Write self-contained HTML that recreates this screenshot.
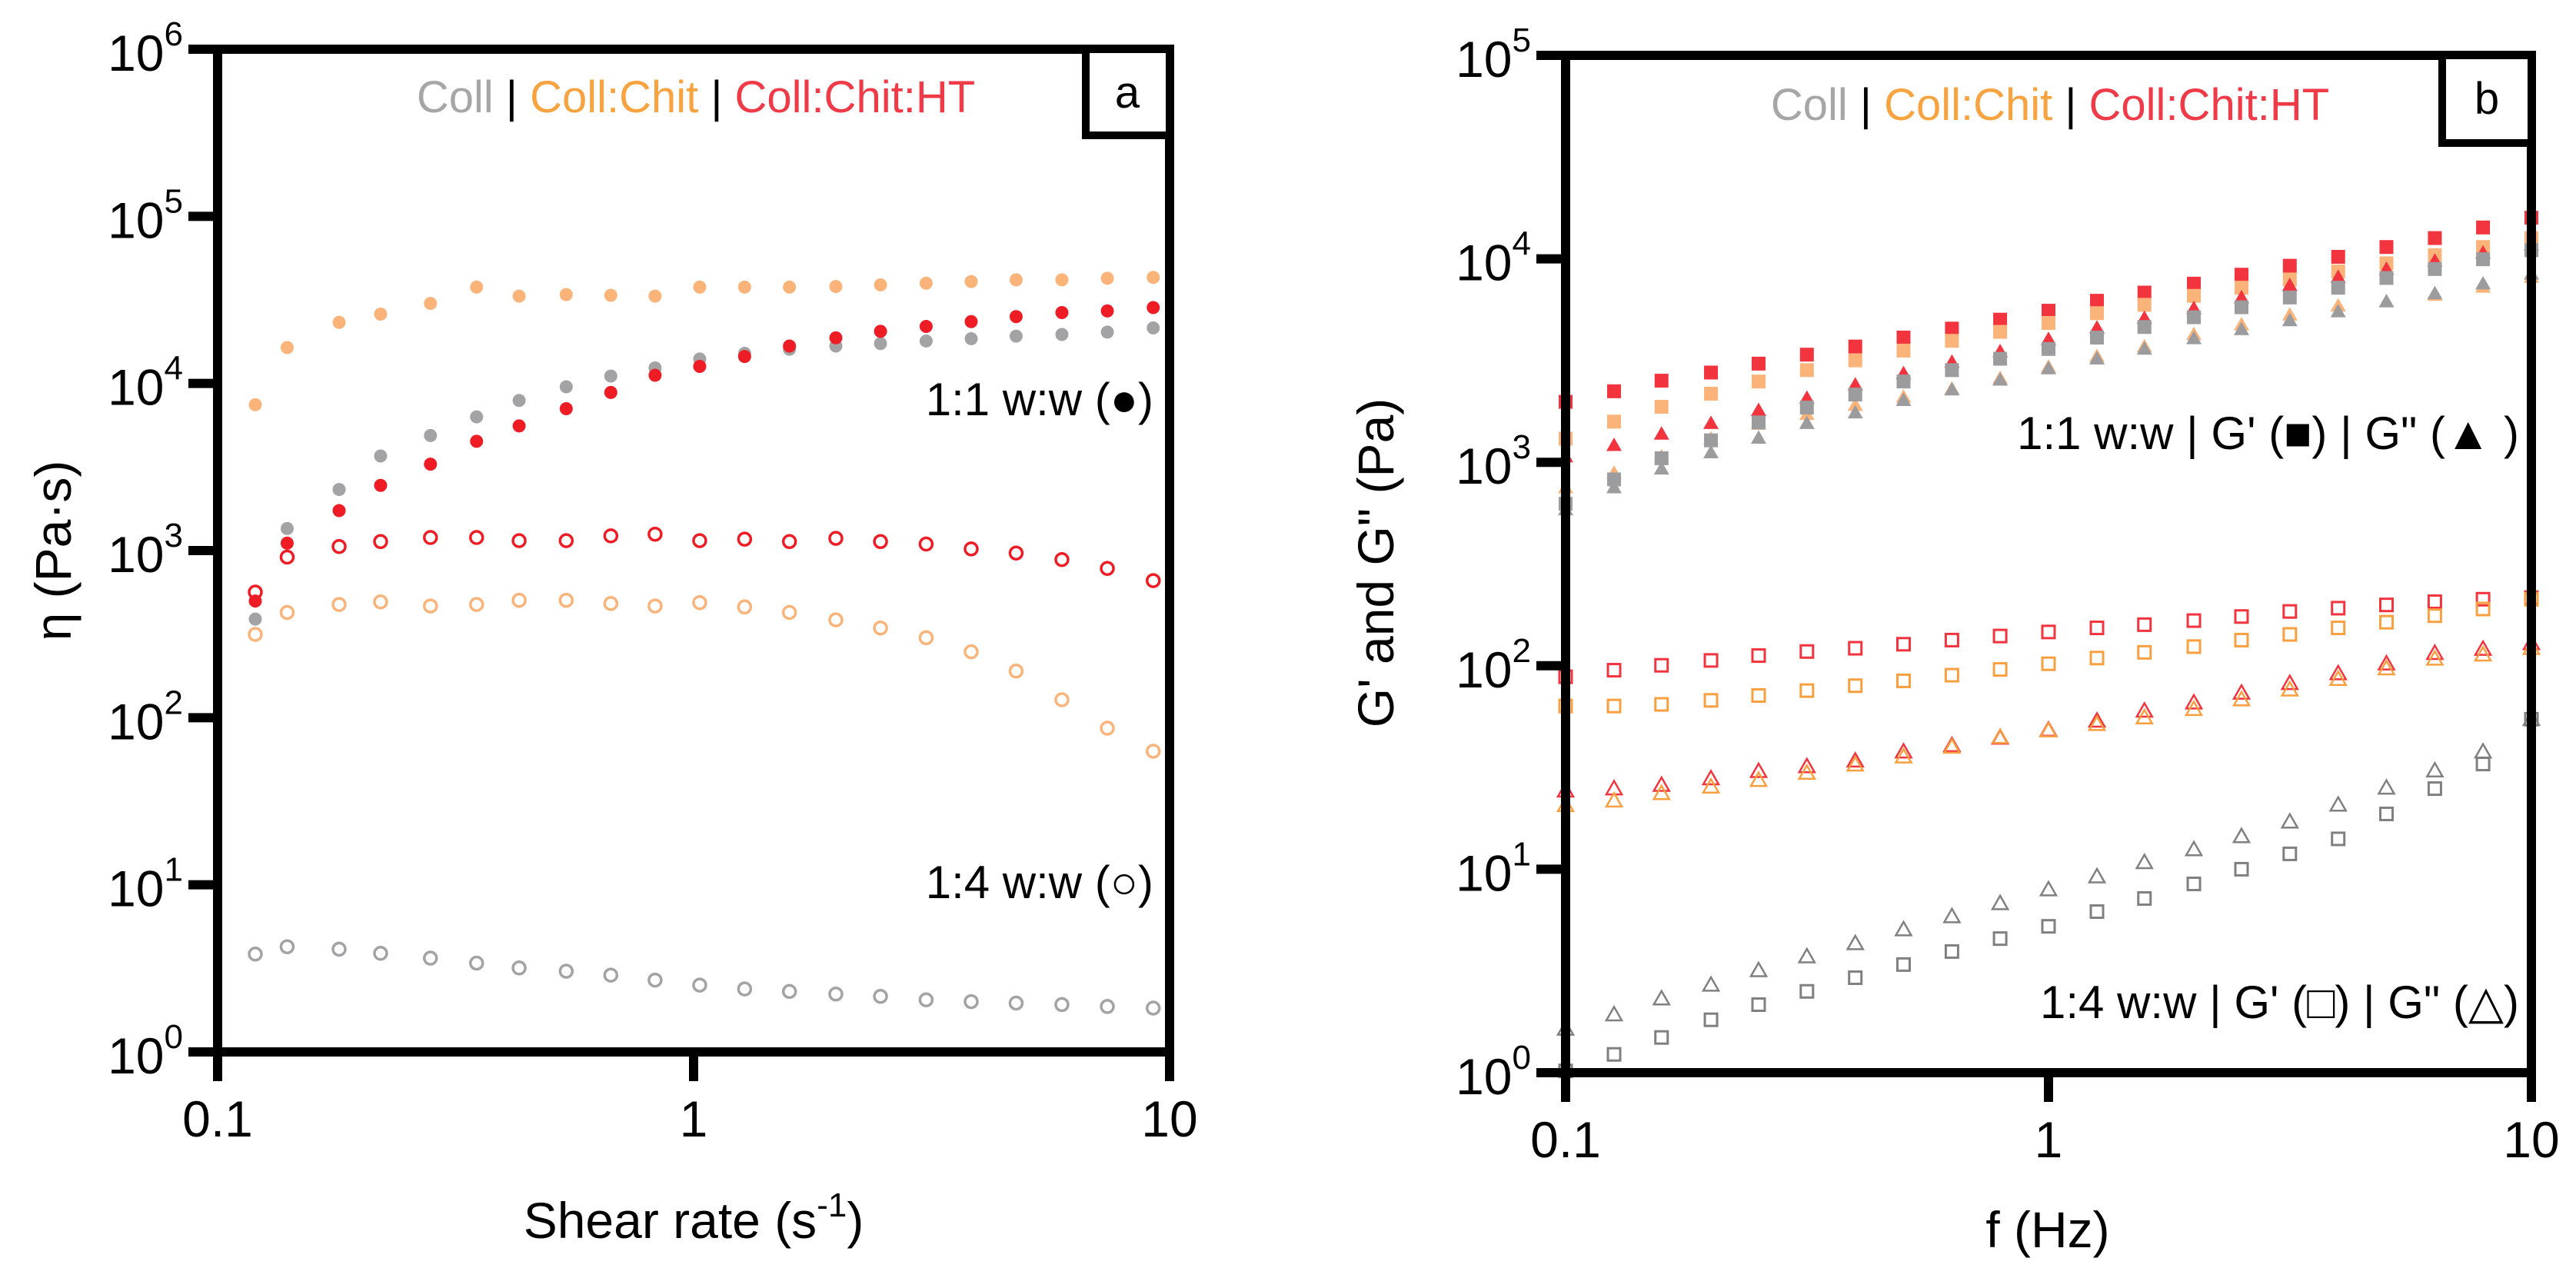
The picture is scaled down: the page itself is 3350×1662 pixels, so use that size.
<!DOCTYPE html>
<html><head><meta charset="utf-8"><style>
html,body{margin:0;padding:0;background:#fff;}
svg{display:block;font-family:"Liberation Sans",Arial,sans-serif;}
</style></head><body>
<svg id="fig" width="3350" height="1662" viewBox="0 0 3350 1662" xmlns="http://www.w3.org/2000/svg">
<g id="pa"></g>
<g id="pb"></g>
</svg>
<script>
// ---------- Panel a data ----------
const shearRate = [0.12,0.14,0.18,0.22,0.28,0.35,0.43,0.54,0.67,0.83,1.03,1.28,1.59,1.99,2.47,3.08,3.83,4.76,5.94,7.4,9.24];
const etaChit11 = [7460,16400,23200,26000,30100,37700,33300,34000,33700,33300,37700,37700,37700,38000,38900,39800,40700,41700,41700,42600,43100];
const etaColl11 = [389,1355,2320,3680,4880,6310,7910,9550,11070,12390,14000,15140,16030,16750,17340,17950,18530,19190,19630,20280,21480];
const etaHT11 = [499,1107,1734,2455,3289,4508,5570,7063,8831,11190,12650,14490,16750,18750,20510,21930,23440,25120,26550,27160,28440];
const etaHT14 = [564,914,1057,1132,1197,1197,1146,1146,1225,1253,1146,1170,1132,1183,1132,1094,1023,966,883,782,661];
const etaChit14 = [315,426,476,493,466,476,504,504,482,466,488,460,426,385,344,301,248,190,128,86.5,63];
const etaColl14 = [3.85,4.26,4.12,3.89,3.64,3.40,3.18,3.04,2.88,2.69,2.51,2.38,2.30,2.22,2.15,2.05,2.00,1.96,1.92,1.87,1.83];
const aYTicks = [0,1,2,3,4,5,6];
const aXTicks = ["0.1","1","10"];
// ---------- Panel b data ----------
const freq = [0.1,0.126,0.158,0.2,0.251,0.316,0.398,0.501,0.631,0.794,1,1.26,1.58,2,2.51,3.16,3.98,5.01,6.31,7.94,10];
const gpHT11 = [1982,2234,2518,2761,3055,3381,3707,4102,4539,5023,5559,6223,6823,7551,8356,9247,10230,11430,12650,14260,15920];
const gpChit11 = [1306,1585,1875,2173,2495,2838,3170,3540,3954,4375,4842,5408,5943,6577,7211,7907,8670,9506,10420,11430,12650];
const gpColl11 = [625,824,1047,1282,1570,1858,2153,2495,2838,3228,3606,4102,4624,5164,5781,6457,7211,8054,8913,9954,11020];
const gppHT11 = [1067,1213,1380,1556,1803,2070,2404,2735,3112,3508,4027,4581,5117,5715,6457,7413,8128,8913,9772,10715,11750];
const gppChit11 = [752,887,1067,1306,1542,1722,1910,2094,2296,2588,2944,3319,3707,4256,4753,5309,5888,6166,6637,7278,8128];
const gppColl11 = [586,752,929,1117,1318,1556,1754,2018,2275,2541,2891,3228,3606,4064,4498,4977,5508,6166,6761,7551,8433];
const gpHT14 = [88.3,95.1,100.5,106.2,112.2,117.5,121.9,127.6,133.7,140,146.6,153.5,159.2,166.7,174.6,184.9,191.9,199.1,206.5,212.3,216.3];
const gpChit14 = [63.4,63.4,64.6,67.6,71.4,75.5,79.8,84.3,89.9,95.9,102.3,109.1,116.4,124.2,133.7,142.6,153.5,163.7,176.2,190.1,212.3];
const gppHT14 = [24.3,24.9,25.9,27.9,30.3,32,34.1,37.8,40.6,44.2,48.4,53.6,60,65.8,73.5,82,91.6,102.3,115.3,120.8,128.8];
const gppChit14 = [20.6,21.7,23.6,25.4,27.4,29.7,32.6,35.7,39.9,44.6,48,51.6,55.6,61.1,68.2,76.2,85.9,96.8,108.1,113.2,121.9];
const gppColl14 = [1.64,1.93,2.31,2.70,3.18,3.72,4.32,5.05,5.86,6.79,7.94,9.2,10.8,12.5,14.5,17.1,20.7,25.1,30.5,37.8,54.6];
const gpColl14 = [1.02,1.23,1.49,1.82,2.16,2.51,2.93,3.40,3.94,4.56,5.24,6.19,7.18,8.47,10,11.9,14.1,18.7,24.9,32.9,54.6];
const bYTicks = [0,1,2,3,4,5];
const bXTicks = ["0.1","1","10"];

const NS = "http://www.w3.org/2000/svg";
const GRAY="#a3a3a6", ORL="#fab47a", ORO="#f8a040", RED="#ee1c25", REDB="#f2343f";
function mk(parent, tag, attrs){const e=document.createElementNS(NS,tag);for(const k in attrs)e.setAttribute(k,attrs[k]);parent.appendChild(e);return e;}

function buildPanel(g, cfg){
  const {x0,x1,y0,y1,dMin,dMax} = cfg;
  const xs = v => x0 + (Math.log10(v)+1)/2*(x1-x0);
  const ys = v => y1 - (Math.log10(v)-dMin)/(dMax-dMin)*(y1-y0);
  const plot = mk(g,'g',{});
  
  
  cfg.series.forEach(s=>{
    const sg = mk(plot,'g',{});
    
    
    s.y.forEach((v,i)=>{
      const cx = xs(cfg.x[i]), cy = ys(v);
      let m;
      if(s.shape==='circle'){
        m = s.open ? mk(sg,'circle',{cx,cy,r:8,fill:'none',stroke:s.color,'stroke-width':3.5})
                   : mk(sg,'circle',{cx,cy,r:8.5,fill:s.color});
      } else if(s.shape==='square'){
        const h = s.open?8:9;
        m = s.open ? mk(sg,'rect',{x:cx-h,y:cy-h,width:2*h,height:2*h,fill:'none',stroke:s.color,'stroke-width':3})
                   : mk(sg,'rect',{x:cx-h,y:cy-h,width:2*h,height:2*h,fill:s.color});
      } else {
        const h=10, pts=`${cx},${cy-h} ${cx+h},${cy+h*0.75} ${cx-h},${cy+h*0.75}`;
        m = s.open ? mk(sg,'polygon',{points:pts,fill:'none',stroke:s.color,'stroke-width':2.5})
                   : mk(sg,'polygon',{points:pts,fill:s.color});
      }
      
      
    });
  });
  const ax = mk(g,'g',{});
  
  
  mk(ax,'rect',{x:x0,y:y0,width:x1-x0,height:y1-y0,fill:'none',stroke:'#000','stroke-width':12});
  const yt = mk(g,'g',{});
  
  
  cfg.yTicks.forEach(d=>{
    const y = ys(Math.pow(10,d));
    mk(yt,'line',{x1:x0-38,x2:x0,y1:y,y2:y,stroke:'#000','stroke-width':12});
    const t = mk(yt,'text',{x:x0-45,y:y+28,'text-anchor':'end','font-size':66,fill:'#000'});
    t.textContent='10';
    const sup = mk(t,'tspan',{dy:-33,'font-size':44});
    sup.textContent=String(d);
    
    
  });
  const xt = mk(g,'g',{});
  
  
  cfg.xTicks.forEach(lab=>{
    const x = xs(parseFloat(lab));
    mk(xt,'line',{x1:x,x2:x,y1:y1,y2:y1+38,stroke:'#000','stroke-width':12});
    const t = mk(xt,'text',{x:x,y:y1+110,'text-anchor':'middle','font-size':66,fill:'#000'});
    t.textContent=lab;
    
    
  });
}

buildPanel(document.getElementById('pa'),{
  x0:283,x1:1521,y0:64,y1:1368,dMin:0,dMax:6,x:shearRate,yTicks:aYTicks,xTicks:aXTicks,
  series:[
    {name:'coll-1-4',y:etaColl14,shape:'circle',open:true,color:GRAY},
    {name:'chit-1-4',y:etaChit14,shape:'circle',open:true,color:ORL},
    {name:'ht-1-4',y:etaHT14,shape:'circle',open:true,color:RED},
    {name:'chit-1-1',y:etaChit11,shape:'circle',open:false,color:ORL},
    {name:'coll-1-1',y:etaColl11,shape:'circle',open:false,color:GRAY},
    {name:'ht-1-1',y:etaHT11,shape:'circle',open:false,color:RED}
  ]});
buildPanel(document.getElementById('pb'),{
  x0:2036,x1:3292,y0:72,y1:1395,dMin:0,dMax:5,x:freq,yTicks:bYTicks,xTicks:bXTicks,
  series:[
    {name:'ht-gp-1-1',y:gpHT11,shape:'square',open:false,color:REDB},
    {name:'chit-gp-1-1',y:gpChit11,shape:'square',open:false,color:ORL},
    {name:'ht-gpp-1-1',y:gppHT11,shape:'tri',open:false,color:REDB},
    {name:'chit-gpp-1-1',y:gppChit11,shape:'tri',open:false,color:ORL},
    {name:'coll-gpp-1-1',y:gppColl11,shape:'tri',open:false,color:'#9c9c9e'},
    {name:'coll-gp-1-1',y:gpColl11,shape:'square',open:false,color:'#9c9c9e'},
    {name:'ht-gp-1-4',y:gpHT14,shape:'square',open:true,color:REDB},
    {name:'chit-gp-1-4',y:gpChit14,shape:'square',open:true,color:ORO},
    {name:'ht-gpp-1-4',y:gppHT14,shape:'tri',open:true,color:REDB},
    {name:'chit-gpp-1-4',y:gppChit14,shape:'tri',open:true,color:ORO},
    {name:'coll-gpp-1-4',y:gppColl14,shape:'tri',open:true,color:'#808080'},
    {name:'coll-gp-1-4',y:gpColl14,shape:'square',open:true,color:'#808080'}
  ]});
</script>
<svg style="position:absolute;left:0;top:0" width="3350" height="1662" xmlns="http://www.w3.org/2000/svg">
 <g font-family="Liberation Sans, Arial, sans-serif" fill="#000">
  <text x="905" y="146" text-anchor="middle" font-size="58"><tspan fill="#a6a6a6">Coll</tspan> | <tspan fill="#f7a340">Coll:Chit</tspan> | <tspan fill="#ef3a47">Coll:Chit:HT</tspan></text>
  <rect x="1412" y="64" width="109" height="112" fill="#fff" stroke="#000" stroke-width="10"/>
  <text x="1466" y="140" text-anchor="middle" font-size="58">a</text>
  <text x="1500" y="540" text-anchor="end" font-size="60">1:1 w:w (●)</text>
  <text x="1500" y="1168" text-anchor="end" font-size="60">1:4 w:w (○)</text>
  <text x="902" y="1610" text-anchor="middle" font-size="66">Shear rate (s<tspan dy="-28" font-size="44">-1</tspan><tspan dy="28">)</tspan></text>
  <text transform="translate(92,716) rotate(-90)" text-anchor="middle" font-size="66">η (Pa·s)</text>

  <text x="2666" y="156" text-anchor="middle" font-size="58"><tspan fill="#a6a6a6">Coll</tspan> | <tspan fill="#f7a340">Coll:Chit</tspan> | <tspan fill="#ef3a47">Coll:Chit:HT</tspan></text>
  <rect x="3176" y="72" width="116" height="114" fill="#fff" stroke="#000" stroke-width="10"/>
  <text x="3234" y="148" text-anchor="middle" font-size="58">b</text>
  <text x="3276" y="584" text-anchor="end" font-size="60">1:1 w:w | G' (■) | G" (▲ )</text>
  <text x="3276" y="1324" text-anchor="end" font-size="60">1:4 w:w | G' (□) | G" (△)</text>
  <text x="2663" y="1622" text-anchor="middle" font-size="66">f (Hz)</text>
  <text transform="translate(1812,732) rotate(-90)" text-anchor="middle" font-size="66">G' and G" (Pa)</text>
 </g>
</svg>
</body></html>
